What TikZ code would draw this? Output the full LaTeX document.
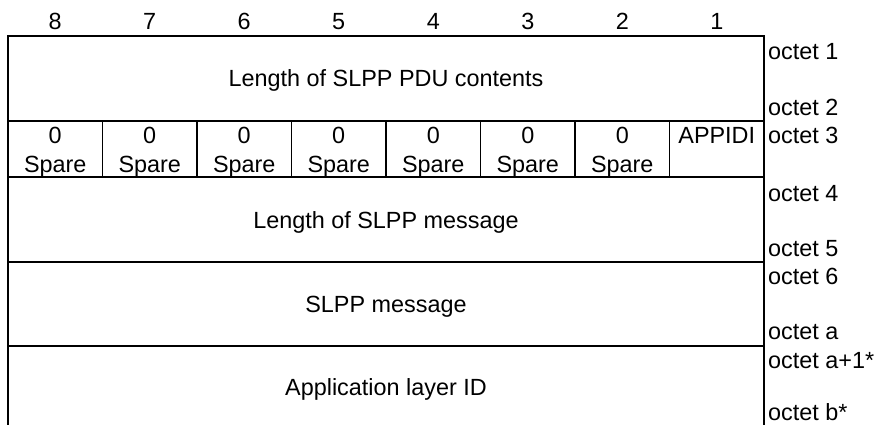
\documentclass[tikz,border=0pt]{standalone}
\usepackage{fontspec}
\setmainfont{Liberation Sans}
\tikzset{
  grid/.style={line width=1.6pt, black},
  lbl/.style={inner sep=0pt, anchor=base, font=\fontsize{23.4}{28}\selectfont},
  oct/.style={inner sep=0pt, anchor=base west, font=\fontsize{23.4}{28}\selectfont},
  cell/.style={inner sep=0pt, anchor=base, align=center, font=\fontsize{23.4}{28.5}\selectfont},
}
\begin{document}
\begin{tikzpicture}[x=1pt,y=-1pt]
\useasboundingbox (0,0) rectangle (877,425);
% frame and rows
\draw[grid] (8,425) -- (8,36) -- (764,36) -- (764,425);
\draw[grid] (8,121) -- (764,121);
\draw[grid] (8,177) -- (764,177);
\draw[grid] (8,262) -- (764,262);
\draw[grid] (8,346) -- (764,346);
\foreach \i in {1,...,7} {
  \draw[grid] ({8+94.5*\i},121) -- ({8+94.5*\i},177);
}
% header bit numbers
\foreach \b [count=\k from 0] in {8,7,6,5,4,3,2,1} {
  \node[lbl] (bit\b) at ({8+94.5*(\k+0.5)},30) {\b};
}
% contents
\node[lbl] (len) at (386,87) {Length of SLPP PDU contents};
\foreach \k in {0,...,6} {
  \node[cell] (sp\k) at ({8+94.5*(\k+0.5)},172) {0\\Spare};
}
\node[lbl] (appidi) at (716.75,143) {APPIDI};
\node[lbl] (lenmsg) at (386,228) {Length of SLPP message};
\node[lbl] (msg) at (386,312) {SLPP message};
\node[lbl] (appid) at (386,395) {Application layer ID};
% octet labels
\node[oct] (o1) at (768,60) {octet 1};
\node[oct] (o2) at (768,115) {octet 2};
\node[oct] (o3) at (768,143) {octet 3};
\node[oct] (o4) at (768,201) {octet 4};
\node[oct] (o5) at (768,256) {octet 5};
\node[oct] (o6) at (768,284) {octet 6};
\node[oct] (oa) at (768,339) {octet a};
\node[oct] (oa1) at (768,368) {octet a+1*};
\node[oct] (ob) at (768,420) {octet b*};
\end{tikzpicture}
\end{document}
